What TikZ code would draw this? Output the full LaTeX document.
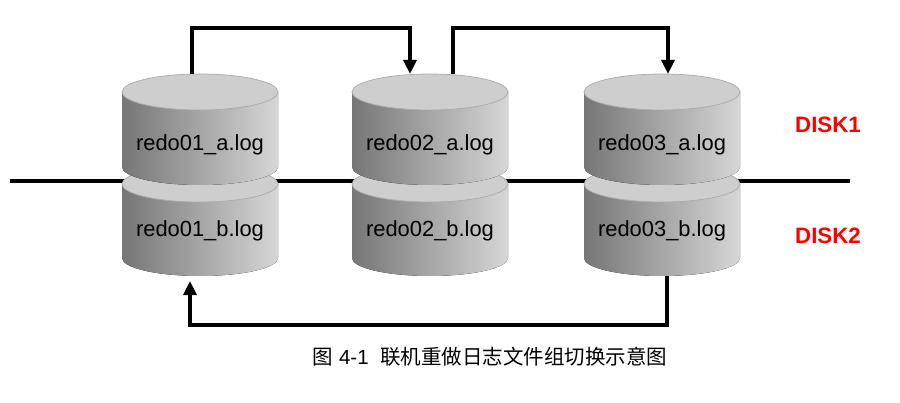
\documentclass[tikz,border=0pt]{standalone}
\usepackage{fontspec}
\setmainfont{Liberation Sans}
\newfontfamily\cjk{Noto Sans CJK SC}
\usetikzlibrary{arrows.meta}

\definecolor{cyldark}{RGB}{118,118,118}
\definecolor{cyllight}{RGB}{214,214,214}
\definecolor{cyltop}{RGB}{206,206,206}
\definecolor{cylrim}{RGB}{170,170,170}

\begin{document}
\begin{tikzpicture}[x=0.03cm,y=0.03cm,
        flow/.style={line width=3pt, -{Triangle[length=12pt,width=11pt]}},
        plain/.style={line width=3pt},
        loglabel/.style={font=\fontsize{18.7}{22}\selectfont},
        disklabel/.style={font=\fontsize{19}{22}\selectfont\bfseries, text=red}]
        \useasboundingbox (0,0) rectangle (900,403);

        % Disk boundary line
        \coordinate (lineL) at (10,222);
        \coordinate (lineR) at (850,222);
        \draw[plain] (lineL) -- (lineR);

        % Cylinders: lower one first, upper one covers its top
        \foreach \cx/\yt/\yb in {200/219/145, 200/311/236, 430/219/145, 430/311/236, 662/219/145, 662/311/236} {
            \fill[left color=cyldark, right color=cyllight] (\cx-78,\yt) -- (\cx-78,\yb)
                arc[start angle=180, end angle=360, x radius=78, y radius=18] -- (\cx+78,\yt) -- cycle;
            \filldraw[fill=cyltop, draw=cylrim, line width=0.6pt] (\cx,\yt) ellipse [x radius=78, y radius=18];
        }

        % Log file names
        \node[loglabel] (a1) at (200,258) {redo01\_a.log};
        \node[loglabel] (b1) at (200,172) {redo01\_b.log};
        \node[loglabel] (a2) at (430,258) {redo02\_a.log};
        \node[loglabel] (b2) at (430,172) {redo02\_b.log};
        \node[loglabel] (a3) at (662,258) {redo03\_a.log};
        \node[loglabel] (b3) at (662,172) {redo03\_b.log};

        % Disk names
        \node[disklabel] (disk1) at (828,278) {DISK1};
        \node[disklabel] (disk2) at (828,167) {DISK2};

        % Switch points
        \coordinate (out1) at (192,329);
        \coordinate (in2) at (410,329);
        \coordinate (out2) at (453,329);
        \coordinate (in3) at (668,329);
        \coordinate (out3) at (667,127);
        \coordinate (in1) at (190,122);

        % Switching order
        \draw[flow] (out1) -- ++(0,46) -| (in2);
        \draw[flow] (out2) -- ++(0,46) -| (in3);
        \draw[flow] (out3) -- ++(0,-49) -| (in1);

        % Caption
        \node[font=\fontsize{17.5}{20}\selectfont] (caption) at (490,46)
            {{\cjk 图}~4-1~~{\cjk 联机重做日志文件组切换示意图}};
\end{tikzpicture}
\end{document}
